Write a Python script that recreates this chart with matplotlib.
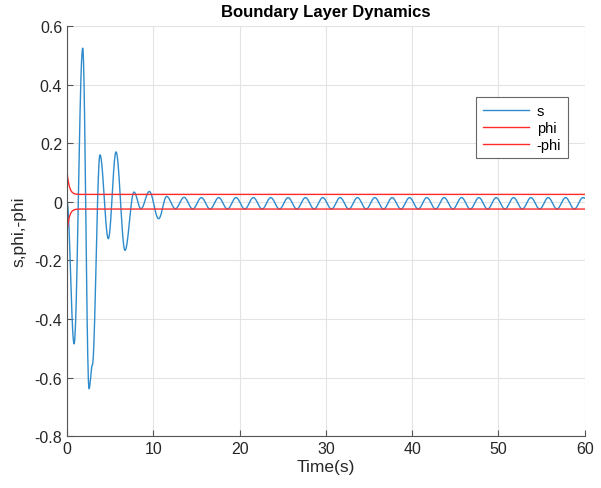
import numpy as np
import matplotlib.pyplot as plt

plt.rcParams['font.family'] = ['Liberation Sans', 'DejaVu Sans']

# s(t): turning points (time, value)
transient_t = [0.0, 0.82, 1.82, 2.55, 2.93, 3.82, 4.79, 5.68, 6.72, 7.76, 8.57, 9.54, 10.62]
transient_s = [0.0, -0.485, 0.524, -0.638, -0.558, 0.160, -0.126, 0.170, -0.166, 0.033, -0.024, 0.035, -0.058]

steady_t = [11.55, 12.56, 13.56, 14.57, 15.57, 16.58, 17.58, 18.59, 19.59, 20.60,
            21.60, 22.61, 23.61, 24.62, 25.62, 26.63, 27.63, 28.64, 29.64, 30.65,
            31.65, 32.66, 33.66, 34.67, 35.67, 36.68, 37.68, 38.69, 39.69, 40.70,
            41.70, 42.71, 43.71, 44.72, 45.72, 46.73, 47.73, 48.74, 49.74, 50.75,
            51.75, 52.76, 53.76, 54.77, 55.77, 56.78, 57.78, 58.79, 59.79, 60.0]
steady_s = [0.018, -0.024, 0.015, -0.025, 0.014, -0.025, 0.014, -0.025, 0.014, -0.025,
            0.014, -0.025, 0.014, -0.025, 0.014, -0.025, 0.014, -0.025, 0.014, -0.025,
            0.014, -0.025, 0.014, -0.025, 0.014, -0.025, 0.014, -0.025, 0.014, -0.025,
            0.014, -0.025, 0.014, -0.025, 0.014, -0.025, 0.014, -0.025, 0.014, -0.025,
            0.014, -0.025, 0.014, -0.025, 0.014, -0.025, 0.014, -0.025, 0.014, 0.012]

# boundary layer thickness phi(t)
phi_t = [0.0, 0.1, 0.2, 0.3, 0.45, 0.6, 0.8, 1.0, 1.5, 60.0]
phi_v = [0.100, 0.078, 0.061, 0.049, 0.038, 0.032, 0.028, 0.026, 0.025, 0.025]


def smooth_path(tp, vp, n=30):
    # half-cosine segments between consecutive turning points
    ts, vs = [], []
    for t0, t1, v0, v1 in zip(tp[:-1], tp[1:], vp[:-1], vp[1:]):
        u = np.linspace(0, 1, n)
        ts.append(t0 + u * (t1 - t0))
        vs.append(v0 + (v1 - v0) * (1 - np.cos(np.pi * u)) / 2)
    return np.concatenate(ts), np.concatenate(vs)


s_t, s_v = smooth_path(transient_t + steady_t, transient_s + steady_s)

fig = plt.figure(figsize=(6.01, 4.89), dpi=100)
ax = fig.add_axes([0.1115, 0.106, 0.8615, 0.839])

ax.plot(s_t, s_v, color='#2e8bcc', lw=1.0, label='s')
ax.plot(phi_t, phi_v, color='#ff2a2a', lw=1.0, label='phi')
ax.plot(phi_t, -np.array(phi_v), color='#ff2a2a', lw=1.0, label='-phi')

ax.set_xlim(0, 60)
ax.set_ylim(-0.8, 0.6)
ax.set_xticks(np.arange(0, 61, 10))
ax.set_yticks(np.arange(-0.8, 0.61, 0.2))
ax.set_yticklabels(['-0.8', '-0.6', '-0.4', '-0.2', '0', '0.2', '0.4', '0.6'])
ax.grid(True, color='#e3e3e3', lw=0.8)
ax.set_axisbelow(True)
for side in ['top', 'right']:
    ax.spines[side].set_visible(False)
for side in ['left', 'bottom']:
    ax.spines[side].set_color('#555555')
ax.tick_params(direction='in', length=4, color='#555555', labelsize=11.5, labelcolor='#262626')

ax.set_title('Boundary Layer Dynamics', fontsize=12, fontweight='bold', pad=7)
ax.set_xlabel('Time(s)', fontsize=12.5, color='#262626', labelpad=2)
ax.set_ylabel('s,phi,-phi', fontsize=12.5, color='#262626', labelpad=6)

leg = ax.legend(loc='upper right', bbox_to_anchor=(0.967, 0.826), fontsize=10.5,
                handlelength=3.2, fancybox=False, framealpha=1, borderpad=0.45,
                labelspacing=0.2, handletextpad=0.5, borderaxespad=0)
leg.get_frame().set_edgecolor('#666666')
leg.get_frame().set_linewidth(0.8)

fig.savefig('out.png', dpi=100)
